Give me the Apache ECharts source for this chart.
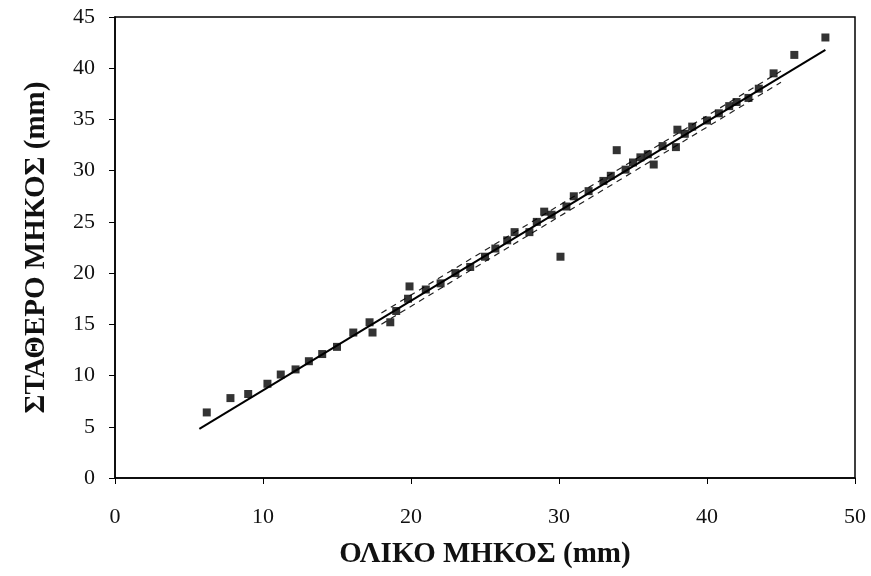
<!DOCTYPE html>
<html>
<head>
<meta charset="utf-8">
<script src="https://cdn.jsdelivr.net/npm/echarts@6/dist/echarts.min.js"></script>
<style>
  html, body { margin: 0; padding: 0; background: #fff; }
  #chart { width: 871px; height: 576px; }
</style>
</head>
<body>
<div id="chart"></div>
<script>
// measured points (ΟΛΙΚΟ ΜΗΚΟΣ, ΣΤΑΘΕΡΟ ΜΗΚΟΣ)
const totalLength = [6.2, 7.8, 9.0, 10.3, 11.2, 12.2, 13.1, 14.0, 15.0, 16.1, 17.2, 17.4, 18.6, 19.0, 19.8, 19.9,
  21.0, 22.0, 23.0, 24.0, 25.0, 25.7, 26.5, 27.0, 28.0, 28.5, 29.0, 29.5, 30.1, 30.5, 31.0, 32.0, 33.0, 33.5,
  33.9, 34.5, 35.0, 35.5, 36.0, 36.4, 37.0, 37.9, 38.0, 38.5, 39.0, 40.0, 40.8, 41.5, 42.0, 42.8, 43.5, 44.5,
  45.9, 48.0];
const standardLength = [6.4, 7.8, 8.2, 9.2, 10.1, 10.6, 11.4, 12.1, 12.8, 14.2, 15.2, 14.2, 15.2, 16.3, 17.5, 18.7,
  18.4, 19.0, 20.0, 20.6, 21.6, 22.4, 23.2, 24.0, 24.0, 25.0, 26.0, 25.7, 21.6, 26.5, 27.5, 28.0, 29.0, 29.5,
  32.0, 30.1, 30.8, 31.3, 31.6, 30.6, 32.4, 32.3, 34.0, 33.6, 34.3, 34.9, 35.6, 36.3, 36.7, 37.1, 38.0, 39.5,
  41.3, 43.0];

// fitted line end points
const fitX = [5.7, 48.0];
const fitY = [4.8, 41.8];
// dashed band around the fit
const bandX = [18.0, 45.0];
const bandOffset = 0.55;

const xTicks = [0, 10, 20, 30, 40, 50];
const yTicks = [0, 5, 10, 15, 20, 25, 30, 35, 40, 45];

const chart = echarts.init(document.getElementById('chart'));

const fitAt = x => fitY[0] + (fitY[1] - fitY[0]) * (x - fitX[0]) / (fitX[1] - fitX[0]);

chart.setOption({
  animation: false,
  grid: {
    left: 115, right: 16, top: 17, bottom: 98,
    show: true, borderColor: '#000', borderWidth: 1.5
  },
  xAxis: {
    type: 'value',
    min: xTicks[0], max: xTicks[xTicks.length - 1], interval: 10,
    name: 'ΟΛΙΚΟ ΜΗΚΟΣ (mm)',
    nameLocation: 'middle', nameGap: 62,
    nameTextStyle: { fontFamily: 'Liberation Serif', fontSize: 29, fontWeight: 'bold', color: '#111' },
    axisLine: { lineStyle: { color: '#000', width: 1.5 } },
    axisTick: { length: 6, lineStyle: { color: '#000' } },
    axisLabel: { margin: 28, fontFamily: 'Liberation Serif', fontSize: 22, color: '#111' },
    splitLine: { show: false }
  },
  yAxis: {
    type: 'value',
    min: yTicks[0], max: yTicks[yTicks.length - 1], interval: 5,
    name: 'ΣΤΑΘΕΡΟ ΜΗΚΟΣ (mm)',
    nameLocation: 'middle', nameGap: 64,
    nameTextStyle: { fontFamily: 'Liberation Serif', fontSize: 29, fontWeight: 'bold', color: '#111' },
    axisLine: { show: true, lineStyle: { color: '#000', width: 1.5 } },
    axisTick: { show: true, length: 6, lineStyle: { color: '#000' } },
    axisLabel: { margin: 20, fontFamily: 'Liberation Serif', fontSize: 22, color: '#111' },
    splitLine: { show: false }
  },
  series: [
    {
      type: 'line',
      data: bandX.map(x => [x, fitAt(x) + bandOffset]),
      symbol: 'none',
      lineStyle: { color: '#222', width: 1.2, type: [6, 5] },
      z: 1
    },
    {
      type: 'line',
      data: bandX.map(x => [x, fitAt(x) - bandOffset]),
      symbol: 'none',
      lineStyle: { color: '#222', width: 1.2, type: [6, 5] },
      z: 1
    },
    {
      type: 'scatter',
      data: totalLength.map((x, i) => [x, standardLength[i]]),
      symbol: 'rect',
      symbolSize: 8,
      itemStyle: { color: '#000' },
      z: 2
    },
    {
      type: 'line',
      data: fitX.map((x, i) => [x, fitY[i]]),
      symbol: 'none',
      lineStyle: { color: '#000', width: 2 },
      z: 3
    }
  ]
});
</script>
</body>
</html>
